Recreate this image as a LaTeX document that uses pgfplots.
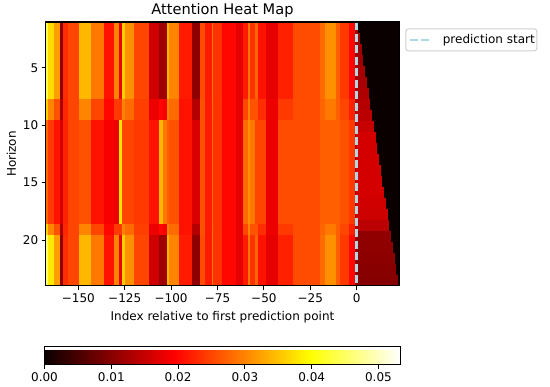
\documentclass[border=0pt]{standalone}
\usepackage{pgfplots}
\pgfplotsset{compat=1.18}
\usepackage{fontspec}
\setmainfont{DejaVu Sans}
\newcommand\mpf{\fontsize{12}{14.4}\selectfont}
\definecolor{predblue}{HTML}{ADD8E6}
\definecolor{legframe}{HTML}{D0D0D0}
\pgfplotsset{colormap={mplhot}{rgb(0pt)=(0.0416,0,0); rgb(365pt)=(1,0,0); rgb(746pt)=(1,1,0); rgb(1000pt)=(1,1,1)}}
\begin{document}
\begin{tikzpicture}
\begin{axis}[name=main, scale only axis, width=353pt, height=264pt,
  xmin=-167.4, xmax=22.8, ymin=1, ymax=24, y dir=reverse,
  xtick={-150,-125,-100,-75,-50,-25,0},
  xticklabels={−150,−125,−100,−75,−50,−25,0},
  ytick={5,10,15,20},
  xtick pos=bottom, ytick pos=left, tick align=outside,
  major tick length=4.3pt, tick style={black, line width=1pt},
  axis line style={line width=1pt},
  /pgf/number format/assume math mode=true,
  tick label style={font=\mpf},
  label style={font=\mpf},
  xlabel style={yshift=-2pt},
  every axis title shift=0pt,
  title style={font=\fontsize{14.6}{17.5}\selectfont, at={(0.5,1)}, anchor=base, yshift=7.5pt},
  title={Attention Heat Map},
  xlabel={Index relative to first prediction point},
  ylabel={Horizon},
  colormap name=mplhot,
  point meta min=0, point meta max=0.0533,
  colorbar horizontal,
  colorbar style={
    at={(parent axis.south)}, anchor=north, yshift=-52pt,
    scale only axis, width=356pt, height=18pt,
    xtick={0,0.01,0.02,0.03,0.04,0.05},
    scaled x ticks=false,
    xticklabel style={font=\mpf},
    /pgf/number format/fixed, /pgf/number format/fixed zerofill, /pgf/number format/precision=2,
    /pgf/number format/assume math mode=true,
    xtick pos=bottom, xticklabel pos=lower, ytick=\empty,
    tick align=outside, major tick length=4.3pt, tick style={black, line width=1pt},
    axis line style={line width=1pt},
  },
  legend style={at={(1.018,0.976)}, anchor=north west, draw=legframe, line width=1pt, rounded corners=2.5pt,
    font=\mpf, inner xsep=0pt, inner ysep=0pt},
  legend image code/.code={\draw[#1, line width=2.4pt, dash pattern=on 8pt off 3.5pt] (0pt,0pt) -- (22pt,0pt); \path[draw=none,fill=none] (-4pt,-11pt) rectangle (31pt,11pt);},
  axis on top,
]
\addplot[surf, shader=flat corner, point meta=explicit, mesh/cols=42, forget plot] table[meta=v] {
x y v
-167.4 1 0.044
-166.0 1 0.037
-163.0 1 0.032
-160.0 1 0.0105
-158.0 1 0.023
-155.5 1 0.025
-149.6 1 0.034
-143.3 1 0.029
-136.2 1 0.021
-130.8 1 0.030
-128.1 1 0.018
-126.3 1 0.036
-124.5 1 0.031
-120.0 1 0.025
-111.9 1 0.0156
-106.5 1 0.0117
-104.0 1 0.012
-102.0 1 0.034
-101.0 1 0.030
-95.8 1 0.0215
-88.6 1 0.0105
-84.4 1 0.0255
-81.7 1 0.0215
-78.1 1 0.029
-77.2 1 0.0235
-72.7 1 0.0200
-64.7 1 0.0175
-61.1 1 0.0215
-58.4 1 0.029
-57.5 1 0.0235
-54.8 1 0.0276
-53.0 1 0.021
-48.6 1 0.0175
-42.3 1 0.022
-34.2 1 0.0255
-19.9 1 0.028
-17.0 1 0.031
-11.0 1 0.027
-9.0 1 0.024
-4.0 1 0.020
-1.0 1 0.012
0.0 1 0

-167.4 7.7 0.036
-166.0 7.7 0.030
-163.0 7.7 0.026
-160.0 7.7 0.013
-158.0 7.7 0.0225
-155.5 7.7 0.025
-149.6 7.7 0.030
-143.3 7.7 0.025
-136.2 7.7 0.020
-130.8 7.7 0.024
-128.1 7.7 0.024
-126.3 7.7 0.030
-124.5 7.7 0.028
-120.0 7.7 0.0245
-111.9 7.7 0.018
-106.5 7.7 0.020
-104.0 7.7 0.019
-102.0 7.7 0.030
-101.0 7.7 0.028
-95.8 7.7 0.021
-88.6 7.7 0.0135
-84.4 7.7 0.026
-81.7 7.7 0.0215
-78.1 7.7 0.0285
-77.2 7.7 0.0235
-72.7 7.7 0.020
-64.7 7.7 0.0175
-61.1 7.7 0.025
-58.4 7.7 0.030
-57.5 7.7 0.026
-54.8 7.7 0.026
-53.0 7.7 0.023
-48.6 7.7 0.018
-42.3 7.7 0.024
-34.2 7.7 0.0255
-19.9 7.7 0.0275
-17.0 7.7 0.029
-11.0 7.7 0.027
-9.0 7.7 0.025
-4.0 7.7 0.022
-1.0 7.7 0.012
0.0 7.7 0

-167.4 9.55 0.028
-166.0 9.55 0.024
-163.0 9.55 0.021
-160.0 9.55 0.016
-158.0 9.55 0.022
-155.5 9.55 0.025
-149.6 9.55 0.026
-143.3 9.55 0.021
-136.2 9.55 0.019
-130.8 9.55 0.018
-128.1 9.55 0.038
-126.3 9.55 0.025
-124.5 9.55 0.025
-120.0 9.55 0.024
-111.9 9.55 0.021
-106.5 9.55 0.034
-104.0 9.55 0.029
-102.0 9.55 0.027
-101.0 9.55 0.026
-95.8 9.55 0.021
-88.6 9.55 0.0165
-84.4 9.55 0.026
-81.7 9.55 0.0215
-78.1 9.55 0.028
-77.2 9.55 0.0235
-72.7 9.55 0.0200
-64.7 9.55 0.0175
-61.1 9.55 0.028
-58.4 9.55 0.031
-57.5 9.55 0.029
-54.8 9.55 0.025
-53.0 9.55 0.025
-48.6 9.55 0.018
-42.3 9.55 0.0255
-34.2 9.55 0.0255
-19.9 9.55 0.027
-17.0 9.55 0.027
-11.0 9.55 0.027
-9.0 9.55 0.026
-4.0 9.55 0.024
-1.0 9.55 0.012
0.0 9.55 0

-167.4 18.6 0.036
-166.0 18.6 0.030
-163.0 18.6 0.026
-160.0 18.6 0.013
-158.0 18.6 0.0225
-155.5 18.6 0.025
-149.6 18.6 0.030
-143.3 18.6 0.025
-136.2 18.6 0.020
-130.8 18.6 0.024
-128.1 18.6 0.024
-126.3 18.6 0.030
-124.5 18.6 0.028
-120.0 18.6 0.0245
-111.9 18.6 0.018
-106.5 18.6 0.020
-104.0 18.6 0.019
-102.0 18.6 0.030
-101.0 18.6 0.028
-95.8 18.6 0.021
-88.6 18.6 0.0135
-84.4 18.6 0.026
-81.7 18.6 0.0215
-78.1 18.6 0.0285
-77.2 18.6 0.0235
-72.7 18.6 0.020
-64.7 18.6 0.0175
-61.1 18.6 0.025
-58.4 18.6 0.030
-57.5 18.6 0.026
-54.8 18.6 0.026
-53.0 18.6 0.023
-48.6 18.6 0.018
-42.3 18.6 0.024
-34.2 18.6 0.0255
-19.9 18.6 0.0275
-17.0 18.6 0.029
-11.0 18.6 0.027
-9.0 18.6 0.025
-4.0 18.6 0.022
-1.0 18.6 0.012
0.0 18.6 0

-167.4 19.55 0.046
-166.0 19.55 0.038
-163.0 19.55 0.032
-160.0 19.55 0.0105
-158.0 19.55 0.023
-155.5 19.55 0.025
-149.6 19.55 0.034
-143.3 19.55 0.029
-136.2 19.55 0.021
-130.8 19.55 0.030
-128.1 19.55 0.018
-126.3 19.55 0.036
-124.5 19.55 0.031
-120.0 19.55 0.025
-111.9 19.55 0.0156
-106.5 19.55 0.0117
-104.0 19.55 0.012
-102.0 19.55 0.034
-101.0 19.55 0.030
-95.8 19.55 0.0215
-88.6 19.55 0.0105
-84.4 19.55 0.0255
-81.7 19.55 0.0215
-78.1 19.55 0.029
-77.2 19.55 0.0235
-72.7 19.55 0.0200
-64.7 19.55 0.0175
-61.1 19.55 0.0215
-58.4 19.55 0.029
-57.5 19.55 0.0235
-54.8 19.55 0.0276
-53.0 19.55 0.021
-48.6 19.55 0.0175
-42.3 19.55 0.022
-34.2 19.55 0.0255
-19.9 19.55 0.028
-17.0 19.55 0.031
-11.0 19.55 0.027
-9.0 19.55 0.024
-4.0 19.55 0.020
-1.0 19.55 0.012
0.0 19.55 0

-167.4 24 0
-166.0 24 0
-163.0 24 0
-160.0 24 0
-158.0 24 0
-155.5 24 0
-149.6 24 0
-143.3 24 0
-136.2 24 0
-130.8 24 0
-128.1 24 0
-126.3 24 0
-124.5 24 0
-120.0 24 0
-111.9 24 0
-106.5 24 0
-104.0 24 0
-102.0 24 0
-101.0 24 0
-95.8 24 0
-88.6 24 0
-84.4 24 0
-81.7 24 0
-78.1 24 0
-77.2 24 0
-72.7 24 0
-64.7 24 0
-61.1 24 0
-58.4 24 0
-57.5 24 0
-54.8 24 0
-53.0 24 0
-48.6 24 0
-42.3 24 0
-34.2 24 0
-19.9 24 0
-17.0 24 0
-11.0 24 0
-9.0 24 0
-4.0 24 0
-1.0 24 0
0.0 24 0
};
\addplot[surf, shader=flat corner, point meta=explicit, mesh/cols=3, forget plot] table[meta=v] {
x y v
0 1.0 0.0117
0.9 1.0 0
23 1.0 0

0 1.9583 0.0117
0.9 1.9583 0
23 1.9583 0

0 1.9583 0.0117
1.8 1.9583 0
23 1.9583 0

0 2.9167 0.0117
1.8 2.9167 0
23 2.9167 0

0 2.9167 0.012
2.8 2.9167 0
23 2.9167 0

0 3.875 0.012
2.8 3.875 0
23 3.875 0

0 3.875 0.012
3.7 3.875 0
23 3.875 0

0 4.8333 0.012
3.7 4.8333 0
23 4.8333 0

0 4.8333 0.0125
4.6 4.8333 0
23 4.8333 0

0 5.7917 0.0125
4.6 5.7917 0
23 5.7917 0

0 5.7917 0.0125
5.6 5.7917 0
23 5.7917 0

0 6.75 0.0125
5.6 6.75 0
23 6.75 0

0 6.75 0.013
6.5 6.75 0
23 6.75 0

0 7.7083 0.013
6.5 7.7083 0
23 7.7083 0

0 7.7083 0.0135
7.4 7.7083 0
23 7.7083 0

0 8.6667 0.0135
7.4 8.6667 0
23 8.6667 0

0 8.6667 0.014
8.4 8.6667 0
23 8.6667 0

0 9.625 0.014
8.4 9.625 0
23 9.625 0

0 9.625 0.0150
9.3 9.625 0
23 9.625 0

0 10.5833 0.0150
9.3 10.5833 0
23 10.5833 0

0 10.5833 0.0160
10.3 10.5833 0
23 10.5833 0

0 11.5417 0.0160
10.3 11.5417 0
23 11.5417 0

0 11.5417 0.0160
11.2 11.5417 0
23 11.5417 0

0 12.5 0.0160
11.2 12.5 0
23 12.5 0

0 12.5 0.0160
12.1 12.5 0
23 12.5 0

0 13.4583 0.0160
12.1 13.4583 0
23 13.4583 0

0 13.4583 0.0160
13.1 13.4583 0
23 13.4583 0

0 14.4167 0.0160
13.1 14.4167 0
23 14.4167 0

0 14.4167 0.0160
14.0 14.4167 0
23 14.4167 0

0 15.375 0.0160
14.0 15.375 0
23 15.375 0

0 15.375 0.0160
14.9 15.375 0
23 15.375 0

0 16.3333 0.0160
14.9 16.3333 0
23 16.3333 0

0 16.3333 0.0158
15.9 16.3333 0
23 16.3333 0

0 17.2917 0.0158
15.9 17.2917 0
23 17.2917 0

0 17.2917 0.0155
16.8 17.2917 0
23 17.2917 0

0 18.25 0.0155
16.8 18.25 0
23 18.25 0

0 18.25 0.0140
17.7 18.25 0
23 18.25 0

0 19.2083 0.0140
17.7 19.2083 0
23 19.2083 0

0 19.2083 0.0107
18.7 19.2083 0
23 19.2083 0

0 20.1667 0.0107
18.7 20.1667 0
23 20.1667 0

0 20.1667 0.0105
19.6 20.1667 0
23 20.1667 0

0 21.125 0.0105
19.6 21.125 0
23 21.125 0

0 21.125 0.0103
20.5 21.125 0
23 21.125 0

0 22.0833 0.0103
20.5 22.0833 0
23 22.0833 0

0 22.0833 0.0100
21.5 22.0833 0
23 22.0833 0

0 23.0417 0.0100
21.5 23.0417 0
23 23.0417 0

0 23.0417 0.0098
22.4 23.0417 0
23 23.0417 0

0 24.0 0.0098
22.4 24.0 0
23 24.0 0
};
\addplot[predblue, line width=2.4pt, dash pattern=on 8pt off 3.5pt] coordinates {(0,1) (0,24)};
\addlegendentry{prediction start}
\end{axis}
\pgfresetboundingbox
\path[use as bounding box] (main.south west) ++(-46pt,-101pt) rectangle ++(550pt,387pt);
\end{tikzpicture}
\end{document}
